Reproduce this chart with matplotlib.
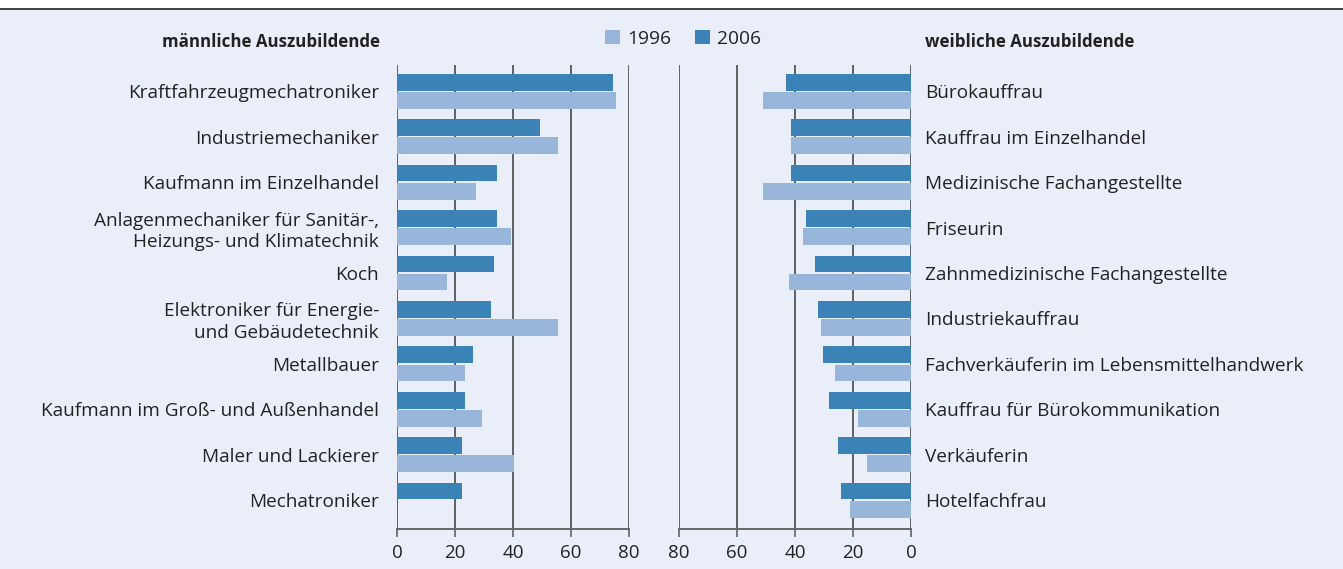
import matplotlib.pyplot as plt
from matplotlib.patches import Patch, Rectangle
from matplotlib.lines import Line2D
import numpy as np

plt.rcParams['font.family'] = ['Open Sans', 'DejaVu Sans']

male_jobs = [
    "Kraftfahrzeugmechatroniker",
    "Industriemechaniker",
    "Kaufmann im Einzelhandel",
    "Anlagenmechaniker für Sanitär-,\nHeizungs- und Klimatechnik",
    "Koch",
    "Elektroniker für Energie-\nund Gebäudetechnik",
    "Metallbauer",
    "Kaufmann im Groß- und Außenhandel",
    "Maler und Lackierer",
    "Mechatroniker",
]
male_2006 = [74.4, 49.2, 34.4, 34.4, 33.3, 32.3, 26.1, 23.3, 22.3, 22.3]
male_1996 = [75.4, 55.4, 27.1, 39.2, 17.1, 55.4, 23.3, 29.2, 40.2, 0]

female_jobs = [
    "Bürokauffrau",
    "Kauffrau im Einzelhandel",
    "Medizinische Fachangestellte",
    "Friseurin",
    "Zahnmedizinische Fachangestellte",
    "Industriekauffrau",
    "Fachverkäuferin im Lebensmittelhandwerk",
    "Kauffrau für Bürokommunikation",
    "Verkäuferin",
    "Hotelfachfrau",
]
female_2006 = [43.0, 41.3, 41.3, 36.1, 33.0, 32.0, 30.3, 28.2, 25.1, 24.1]
female_1996 = [51.2, 41.3, 51.2, 37.1, 41.9, 30.9, 26.1, 18.2, 15.1, 21.0]

ticks = [0, 20, 40, 60, 80]

bg = "#eaeef8"
dark = "#3b83b7"
light = "#98b6d9"
text_c = "#222222"

W, H = 1343, 569
fig = plt.figure(figsize=(W / 100, H / 100), dpi=100, facecolor=bg)
fig.add_artist(Rectangle((0, 1 - 8 / H), 1, 8 / H, transform=fig.transFigure,
                         facecolor="white", edgecolor="none"))
fig.add_artist(Line2D([0, 1], [1 - 8.5 / H, 1 - 8.5 / H], transform=fig.transFigure,
                      color="#222222", lw=1.2))

bottom = 1 - 528.7 / H
height = (528.7 - 65) / H
ax_l = fig.add_axes([397 / W, bottom, 232 / W, height])
ax_r = fig.add_axes([679 / W, bottom, 232 / W, height])

y = np.arange(len(male_jobs))
bh = 0.368
off = 0.2

for ax, jobs, v06, v96 in [(ax_l, male_jobs, male_2006, male_1996),
                           (ax_r, female_jobs, female_2006, female_1996)]:
    ax.set_facecolor(bg)
    ax.barh(y - off, v06, height=bh, color=dark, zorder=3)
    ax.barh(y + off, v96, height=bh, color=light, zorder=3)
    ax.set_ylim(9.63, -0.58)
    ax.set_xticks(ticks)
    ax.set_xticklabels([str(t) for t in ticks], fontsize=13.5, color=text_c)
    ax.grid(axis="x", color="#3a3a3a", lw=1.1, zorder=0)
    ax.set_axisbelow(True)
    for s in ["top", "left", "right"]:
        ax.spines[s].set_visible(False)
    ax.spines["bottom"].set_color("#666666")
    ax.spines["bottom"].set_linewidth(1.4)
    ax.tick_params(axis="x", length=6, width=1.1, color="#555555", pad=5)
    ax.set_yticks(y)
    ax.set_yticklabels(jobs, fontsize=13.7, color=text_c)

ax_l.set_xlim(0, 80)
ax_l.tick_params(axis="y", length=0, pad=13)
ax_r.set_xlim(80, 0)
ax_r.yaxis.tick_right()
ax_r.tick_params(axis="y", length=0, pad=10)
for ax in (ax_l, ax_r):
    for t in ax.get_yticklabels():
        t.set_linespacing(1.25)

fig.text(380 / W, 1 - 42 / H, "männliche Auszubildende", ha="right", va="center",
         fontsize=12.2, fontweight="bold", color=text_c)
fig.text(925 / W, 1 - 42 / H, "weibliche Auszubildende", ha="left", va="center",
         fontsize=12.2, fontweight="bold", color=text_c)

handles = [Patch(facecolor=light, edgecolor="none", label="1996"),
           Patch(facecolor=dark, edgecolor="none", label="2006")]
fig.legend(handles=handles, loc="center", bbox_to_anchor=(683 / W, 1 - 38.5 / H),
           ncol=2, frameon=False, fontsize=13.8, handlelength=0.8, handleheight=0.8,
           handletextpad=0.4, columnspacing=1.2, labelcolor=text_c)

fig.savefig("out.png", dpi=100, facecolor=bg)
